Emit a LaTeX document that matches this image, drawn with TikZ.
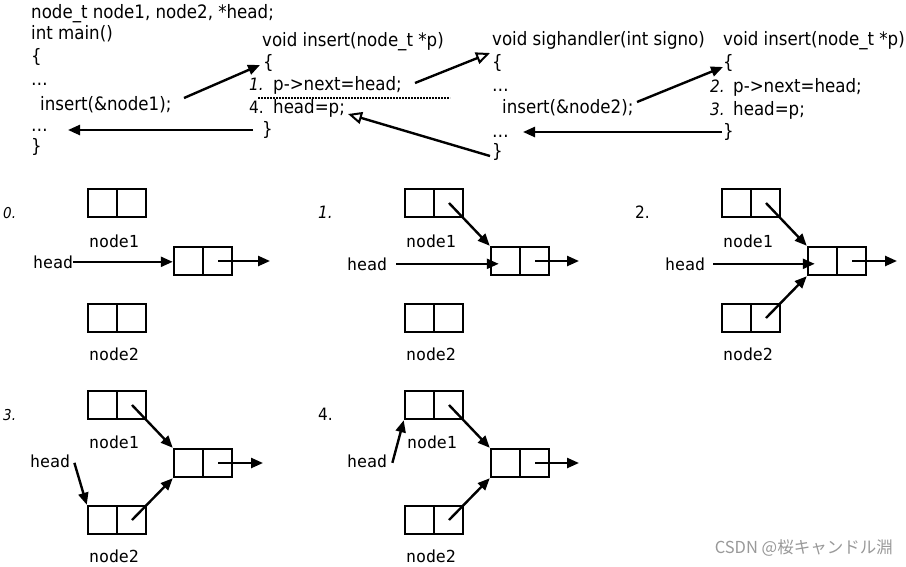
\documentclass[tikz,border=0pt]{standalone}
\usepackage{fontspec}
\newfontfamily\codefnt{DejaVu Sans}[FakeStretch=0.9]
\newfontfamily\lblfnt{DejaVu Sans Mono}
\newfontfamily\wmfnt{Noto Sans CJK JP}
\usetikzlibrary{arrows.meta}
\tikzset{
  code/.style={font=\codefnt\fontsize{18.5}{20}\selectfont, inner sep=0pt, anchor=base west},
  inum/.style={font=\codefnt\itshape\fontsize{17}{19}\selectfont, inner sep=0pt, anchor=base west},
  snum/.style={font=\codefnt\itshape\fontsize{15}{17}\selectfont, inner sep=0pt, anchor=base west},
  unum/.style={font=\codefnt\fontsize{17}{19}\selectfont, inner sep=0pt, anchor=base west},
  lbl/.style={font=\lblfnt\fontsize{16.6}{18}\selectfont, inner sep=0pt},
  cell/.style={draw, line width=2.5pt, minimum width=58pt, minimum height=28pt, inner sep=0pt,
    path picture={\draw[line width=2.5pt] (path picture bounding box.north) -- (path picture bounding box.south);}},
  arr/.style={line width=2.4pt, -{Triangle[length=12pt,width=10pt]}},
  oarr/.style={line width=2.4pt, -{Triangle[open,length=14pt,width=12pt,line width=2pt]}},
}
\begin{document}
\begin{tikzpicture}[x=1pt,y=-1pt]
\fill[white] (0,0) rectangle (906,566);
\useasboundingbox (0,0) rectangle (906,566);

% ---- main ----
\node[code] (decl) at (31,18) {node\_t node1, node2, *head;};
\node[code] (mainf) at (31,39) {int main()};
\node[code] (mbo) at (31,62) {\{};
\node[code] (md1) at (31,85) {…};
\node[code] (ins1) at (40,110) {insert(\&node1);};
\node[code] (md2) at (31,131) {…};
\node[code] (mbc) at (31,152) {\}};

% ---- insert (first) ----
\node[code] (ihA) at (262,46) {void insert(node\_t *p)};
\node[code] (iboA) at (263,68) {\{};
\node[inum] (nA1) at (249,90) {1.};
\node[code] (sA1) at (273,90) {p->next=head;};
\node[unum] (nA4) at (249,113) {4.};
\node[code] (sA4) at (273,113) {head=p;};
\node[code] (ibcA) at (262,135) {\}};
\coordinate (dotL) at (258,98);
\coordinate (dotR) at (450,98);
\draw[densely dotted, line width=2pt] (dotL) -- (dotR);

% ---- sighandler ----
\node[code] (sig) at (492,45) {void sighandler(int signo)};
\node[code] (sbo) at (492,68) {\{};
\node[code] (sd1) at (492,91) {…};
\node[code] (ins2) at (502,113) {insert(\&node2);};
\node[code] (sd2) at (492,137) {…};
\node[code] (sbc) at (492,157) {\}};

% ---- insert (second) ----
\node[code] (ihB) at (723,45) {void insert(node\_t *p)};
\node[code] (iboB) at (723,68) {\{};
\node[inum] (nB2) at (710,92) {2.};
\node[code] (sB2) at (733,92) {p->next=head;};
\node[inum] (nB3) at (710,115) {3.};
\node[code] (sB3) at (733,115) {head=p;};
\node[code] (ibcB) at (723,137) {\}};

% ---- control-flow arrows ----
\coordinate (a1s) at (184,98);  \coordinate (a1e) at (260,65);
\coordinate (a2s) at (253,130); \coordinate (a2e) at (68,130);
\coordinate (a3s) at (415,83);  \coordinate (a3e) at (490,53);
\coordinate (a4s) at (490,156); \coordinate (a4e) at (348,114);
\coordinate (a5s) at (637,102); \coordinate (a5e) at (723,67);
\coordinate (a6s) at (722,132); \coordinate (a6e) at (523,132);
\draw[arr] (a1s) -- (a1e);
\draw[arr] (a2s) -- (a2e);
\draw[oarr] (a3s) -- (a3e);
\draw[oarr] (a4s) -- (a4e);
\draw[arr] (a5s) -- (a5e);
\draw[arr] (a6s) -- (a6e);

% ---- panel 0 ----
\node[snum] (q0) at (3,218) {0.};
\node[cell] (p0a) at (117,203) {};
\node[lbl, anchor=base] (p0al) at (114,247) {node1};
\node[cell] (p0c) at (203,261) {};
\node[cell] (p0b) at (117,318) {};
\node[lbl, anchor=base] (p0bl) at (114,360) {node2};
\node[lbl, anchor=base west] (p0h) at (33,268) {head};
\coordinate (p0o) at (270,261);
\draw[arr] (p0h.east) -- (p0h.east -| p0c.west);
\draw[arr] ([xshift=15pt]p0c.center) -- (p0o);

% ---- panel 1 ----
\begin{scope}[shift={(317,0)}]
\node[inum] (q1) at (1,218) {1.};
\node[cell] (p1a) at (117,203) {};
\node[lbl, anchor=base] (p1al) at (114,247) {node1};
\node[cell] (p1c) at (203,261) {};
\node[cell] (p1b) at (117,318) {};
\node[lbl, anchor=base] (p1bl) at (114,360) {node2};
\node[lbl, anchor=base west] (p1h) at (30,270) {head};
\coordinate (p1o) at (262,261);
\draw[arr] ([xshift=9pt]p1h.east) -- ([xshift=9pt]p1h.east -| p1c.west);
\draw[arr] ([xshift=15pt]p1a.center) -- (p1c.north west);
\draw[arr] ([xshift=15pt]p1c.center) -- (p1o);
\end{scope}

% ---- panel 2 ----
\begin{scope}[shift={(634,0)}]
\node[unum] (q2) at (1,218) {2.};
\node[cell] (p2a) at (117,203) {};
\node[lbl, anchor=base] (p2al) at (114,247) {node1};
\node[cell] (p2c) at (203,261) {};
\node[cell] (p2b) at (117,318) {};
\node[lbl, anchor=base] (p2bl) at (114,360) {node2};
\node[lbl, anchor=base west] (p2h) at (31,270) {head};
\coordinate (p2o) at (263,261);
\draw[arr] ([xshift=8pt]p2h.east) -- ([xshift=8pt]p2h.east -| p2c.west);
\draw[arr] ([xshift=15pt]p2a.center) -- (p2c.north west);
\draw[arr] ([xshift=15pt]p2b.center) -- (p2c.south west);
\draw[arr] ([xshift=15pt]p2c.center) -- (p2o);
\end{scope}

% ---- panel 3 ----
\begin{scope}[shift={(0,202)}]
\node[snum] (q3) at (3,218) {3.};
\node[cell] (p3a) at (117,203) {};
\node[lbl, anchor=base] (p3al) at (114,246) {node1};
\node[cell] (p3b) at (117,318) {};
\node[lbl, anchor=base] (p3bl) at (114,360) {node2};
\node[cell] (p3c) at (203,261) {};
\node[lbl, anchor=base west] (p3h) at (30,265) {head};
\coordinate (p3o) at (263,261);
\draw[arr] ([xshift=4pt,yshift=-2pt]p3h.east) -- (p3b.north west);
\draw[arr] ([xshift=15pt]p3a.center) -- (p3c.north west);
\draw[arr] ([xshift=15pt]p3b.center) -- (p3c.south west);
\draw[arr] ([xshift=15pt]p3c.center) -- (p3o);
\end{scope}

% ---- panel 4 ----
\begin{scope}[shift={(317,202)}]
\node[unum] (q4) at (1,218) {4.};
\node[cell] (p4a) at (117,203) {};
\node[lbl, anchor=base] (p4al) at (115,246) {node1};
\node[cell] (p4b) at (117,318) {};
\node[lbl, anchor=base] (p4bl) at (114,360) {node2};
\node[cell] (p4c) at (203,261) {};
\node[lbl, anchor=base west] (p4h) at (30,265) {head};
\coordinate (p4o) at (262,261);
\draw[arr] ([xshift=5pt,yshift=-2pt]p4h.east) -- (p4a.south west);
\draw[arr] ([xshift=15pt]p4a.center) -- (p4c.north west);
\draw[arr] ([xshift=15pt]p4b.center) -- (p4c.south west);
\draw[arr] ([xshift=15pt]p4c.center) -- (p4o);
\end{scope}

% ---- watermark ----
\node[font=\wmfnt\fontsize{16.5}{18}\selectfont, text=gray!80, anchor=base east, inner sep=0pt] (wm) at (893,553) {CSDN @桜キャンドル淵};
\end{tikzpicture}
\end{document}
